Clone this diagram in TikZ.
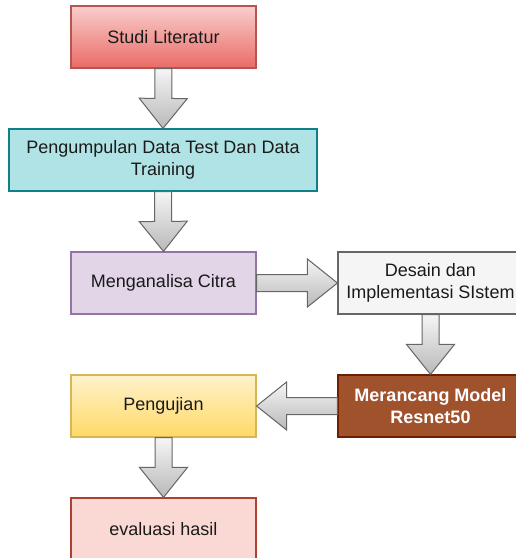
\documentclass[tikz,border=0pt]{standalone}
\usepackage{fontspec}
\setmainfont{Liberation Sans}
\usetikzlibrary{calc}

\definecolor{redtop}{HTML}{F8CECC}
\definecolor{redbot}{HTML}{EA6B66}
\definecolor{redline}{HTML}{B85450}
\definecolor{tealfill}{HTML}{B0E3E6}
\definecolor{tealline}{HTML}{0E8088}
\definecolor{purplefill}{HTML}{E1D5E7}
\definecolor{purpleline}{HTML}{9673A6}
\definecolor{greyfill}{HTML}{F5F5F5}
\definecolor{greyline}{HTML}{666666}
\definecolor{brownfill}{HTML}{A0522D}
\definecolor{brownline}{HTML}{6D1F00}
\definecolor{yellowtop}{HTML}{FFF2CC}
\definecolor{yellowbot}{HTML}{FFD966}
\definecolor{yellowline}{HTML}{D6B656}
\definecolor{pinkfill}{HTML}{FAD9D5}
\definecolor{pinkline}{HTML}{AE4132}
\definecolor{txt}{HTML}{1A1A1A}

\tikzset{
  box/.style={rectangle, line width=1.2pt, minimum width=185pt, minimum height=62pt,
              inner sep=2pt, align=center, text=txt, font=\fontsize{18}{22}\selectfont},
  fatarrow/.style={draw=greyline, line width=1pt, top color=greyfill, bottom color=gray!55}
}

\newcommand{\fatarrow}[2]{%
  \coordinate (hb) at ($(#2)!30pt!(#1)$);
  \draw[fatarrow] ($(#1)!8.5pt!-90:(#2)$) -- ($(hb)!8.5pt!90:(#1)$) -- ($(hb)!24pt!90:(#1)$)
    -- (#2) -- ($(hb)!24pt!-90:(#1)$) -- ($(hb)!8.5pt!-90:(#1)$) -- ($(#1)!8.5pt!90:(#2)$) -- cycle;}

\begin{document}
\begin{tikzpicture}[x=1pt,y=-1pt]

\clip (0,0) rectangle (516,558);
\useasboundingbox (0,0) rectangle (516,558);

      \node[box, draw=redline, top color=redtop, bottom color=redbot] (studi) at (163.5,37) {Studi Literatur};
      \node[box, draw=tealline, fill=tealfill, minimum width=308pt] (kumpul) at (163,160) {Pengumpulan Data Test Dan Data\\Training};
      \node[box, draw=purpleline, fill=purplefill] (analisa) at (163.5,283) {Menganalisa Citra};
      \node[box, draw=greyline, fill=greyfill] (desain) at (430.5,283) {Desain dan\\Implementasi SIstem};
      \node[box, draw=brownline, fill=brownfill, text=white, font=\fontsize{18}{22}\selectfont\bfseries] (model) at (430.5,406) {Merancang Model\\Resnet50};
      \node[box, draw=yellowline, top color=yellowtop, bottom color=yellowbot] (uji) at (163.5,406) {Pengujian};
      \node[box, draw=pinkline, fill=pinkfill] (evaluasi) at (163.5,529) {evaluasi hasil};

      \fatarrow{studi.south}{kumpul.north}
      \fatarrow{kumpul.south}{analisa.north}
      \fatarrow{analisa.east}{desain.west}
      \fatarrow{desain.south}{model.north}
      \fatarrow{model.west}{uji.east}
      \fatarrow{uji.south}{evaluasi.north}
\end{tikzpicture}
\end{document}
